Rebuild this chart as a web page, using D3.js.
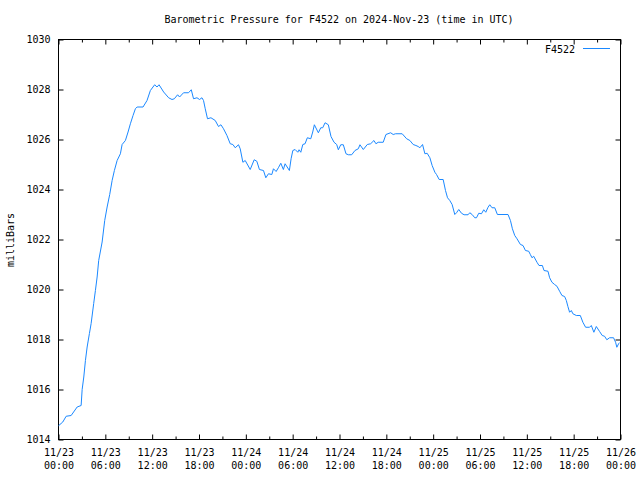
<!DOCTYPE html>
<html><head><meta charset="utf-8">
<script src="https://cdn.jsdelivr.net/npm/d3@7"></script>
<style>body{margin:0;background:#fff}svg{display:block}text{font-family:"DejaVu Sans Mono","Liberation Mono",monospace;font-size:10px;fill:#000}</style>
</head><body><svg id="c" width="640" height="480"></svg>
<script>
const title = "Barometric Pressure for F4522 on 2024-Nov-23 (time in UTC)";
const seriesName = "F4522";
const yLabel = "milliBars";
// hours since 11/23 00:00 UTC
const hours = [0,0.55,0.98,1.62,2.39,2.9,3.03,3.24,3.45,3.67,3.96,4.18,4.51,4.73,4.95,5.15,5.59,5.92,6.23,6.56,6.87,7.16,7.51,7.93,8.15,8.57,8.91,9.21,9.55,9.85,10.07,10.83,11.34,11.77,12.32,12.62,12.88,13.47,14.11,14.54,14.84,15.26,15.51,16.02,16.66,17.01,17.3,17.74,18.07,18.38,18.58,18.8,19.09,19.53,20.08,20.5,20.81,21.14,21.58,22.0,22.34,22.64,23.06,23.28,23.62,23.92,24.56,25.07,25.41,25.74,26.26,26.56,26.9,27.33,27.54,27.88,28.17,28.48,28.81,29.03,29.58,29.8,30.02,30.31,30.66,30.82,31.04,31.3,31.59,31.88,32.32,32.57,32.78,33.29,33.6,33.85,34.15,34.57,34.91,35.3,35.64,35.85,36.16,36.49,36.83,37.13,37.56,37.98,38.41,38.62,39.05,39.56,39.99,40.41,40.67,40.96,41.6,41.95,42.55,42.88,43.19,44.03,44.6,45.02,45.44,45.79,46.08,46.3,46.64,46.94,47.23,47.58,47.87,48.22,48.43,48.77,49.28,49.58,49.84,50.13,50.43,50.77,50.99,51.28,51.63,51.96,52.47,52.69,52.99,53.33,53.55,53.84,54.19,54.48,54.74,55.03,55.25,55.54,55.89,56.23,57.59,57.9,58.15,58.45,58.74,59.18,59.51,59.82,60.24,60.45,60.66,60.88,61.3,61.56,61.99,62.2,62.71,62.92,63.22,63.56,63.86,64.2,64.5,64.84,65.06,65.26,65.48,65.7,65.9,66.34,66.85,67.18,67.53,68.04,68.26,68.59,68.9,69.32,69.66,69.96,70.25,70.6,71.11,71.37,71.53,71.79,71.87];
const pressure = [1014.55,1014.7,1014.93,1014.96,1015.3,1015.36,1016.0,1016.5,1017.16,1017.7,1018.24,1018.64,1019.44,1019.96,1020.5,1021.16,1021.9,1022.76,1023.3,1023.8,1024.36,1024.76,1025.16,1025.43,1025.8,1025.96,1026.3,1026.63,1026.96,1027.23,1027.3,1027.3,1027.56,1027.96,1028.19,1028.1,1028.19,1027.9,1027.67,1027.6,1027.63,1027.79,1027.7,1027.87,1027.87,1027.99,1027.63,1027.67,1027.6,1027.67,1027.56,1027.23,1026.83,1026.87,1026.76,1026.52,1026.59,1026.43,1026.16,1025.83,1025.8,1025.67,1025.79,1025.63,1025.09,1025.16,1024.8,1025.19,1025.13,1024.8,1024.76,1024.47,1024.63,1024.6,1024.83,1024.72,1024.87,1025.05,1024.8,1025.03,1024.76,1025.23,1025.56,1025.6,1025.49,1025.59,1025.49,1025.8,1025.83,1026.07,1026.03,1026.3,1026.59,1026.27,1026.47,1026.47,1026.67,1026.59,1026.12,1025.89,1025.8,1025.59,1025.79,1025.79,1025.43,1025.39,1025.39,1025.56,1025.63,1025.79,1025.6,1025.8,1025.83,1025.96,1025.83,1025.89,1025.89,1026.2,1026.27,1026.2,1026.23,1026.23,1026.03,1025.96,1025.8,1025.76,1025.72,1025.67,1025.8,1025.43,1025.45,1025.27,1024.96,1024.69,1024.6,1024.4,1024.4,1023.96,1023.67,1023.56,1023.4,1023.0,1023.07,1023.2,1023.05,1022.99,1022.99,1023.07,1023.0,1022.87,1022.87,1023.05,1023.03,1023.19,1023.09,1023.29,1023.39,1023.27,1023.27,1023.0,1023.0,1022.76,1022.43,1022.16,1022.03,1021.8,1021.76,1021.56,1021.53,1021.4,1021.27,1021.33,1021.09,1020.96,1020.96,1020.76,1020.73,1020.47,1020.29,1020.2,1020.13,1019.93,1019.76,1019.72,1019.56,1019.32,1019.09,1019.16,1019.03,1018.96,1018.96,1018.69,1018.49,1018.49,1018.56,1018.29,1018.52,1018.32,1018.16,1018.13,1017.99,1018.07,1018.07,1017.89,1017.69,1017.85,1017.87];
const xTickHours = [0,6,12,18,24,30,36,42,48,54,60,66,72];
const xTickDates = ["11/23","11/23","11/23","11/23","11/24","11/24","11/24","11/24","11/25","11/25","11/25","11/25","11/26"];
const xTickTimes = ["00:00","06:00","12:00","18:00","00:00","06:00","12:00","18:00","00:00","06:00","12:00","18:00","00:00"];
const xMinorHours = [3,9,15,21,27,33,39,45,51,57,63,69];
const yTicks = [1014,1016,1018,1020,1022,1024,1026,1028,1030];

const svg = d3.select("#c");
const L=58.5, R=620.5, T=39.5, B=439.5;
const x = d3.scaleLinear().domain([0,72]).range([L,R]);
const y = d3.scaleLinear().domain([1014,1030]).range([B,T]);
const color = "#1a88ff";

// axes (inward ticks, mirrored)
const bx = svg.append("g").attr("transform",`translate(0,${B})`)
  .call(d3.axisBottom(x).tickValues(xTickHours).tickSizeInner(-5).tickSizeOuter(0).tickPadding(9).tickFormat((d,i)=>i));
bx.selectAll(".tick text").each(function(d,i){
  const t=d3.select(this).text(null).attr("font-size",null).attr("font-family",null);
  t.append("tspan").attr("x",0).attr("dy","0.71em").text(xTickDates[i]);
  t.append("tspan").attr("x",0).attr("dy","13").text(xTickTimes[i]);
});
svg.append("g").attr("transform",`translate(0,${B})`)
  .call(d3.axisBottom(x).tickValues(xMinorHours).tickSizeInner(-3).tickSizeOuter(0).tickFormat(""));
svg.append("g").attr("transform",`translate(0,${T})`)
  .call(d3.axisTop(x).tickValues(xTickHours).tickSizeInner(-5).tickSizeOuter(0).tickFormat(""));
svg.append("g").attr("transform",`translate(0,${T})`)
  .call(d3.axisTop(x).tickValues(xMinorHours).tickSizeInner(-3).tickSizeOuter(0).tickFormat(""));
svg.append("g").attr("transform",`translate(${L},0)`)
  .call(d3.axisLeft(y).tickValues(yTicks).tickSizeInner(-5).tickSizeOuter(0).tickPadding(8).tickFormat(d3.format("d")));
svg.append("g").attr("transform",`translate(${R},0)`)
  .call(d3.axisRight(y).tickValues(yTicks).tickSizeInner(-5).tickSizeOuter(0).tickFormat(""));
svg.selectAll(".domain").remove();
svg.selectAll(".tick line").attr("stroke","#000");
svg.selectAll(".tick text").attr("fill","#000").style("font-family",'"DejaVu Sans Mono",monospace').style("font-size","10px");

svg.append("rect").attr("x",L).attr("y",T).attr("width",R-L).attr("height",B-T)
  .attr("fill","none").attr("stroke","#000");

// line
const data = hours.map((h,i)=>[h,pressure[i]]);
svg.append("path").datum(data).attr("fill","none").attr("stroke",color).attr("stroke-width",1)
  .attr("d",d3.line().x(d=>x(d[0])).y(d=>y(d[1])));

// title
svg.append("text").attr("x",339).attr("y",23).attr("text-anchor","middle").text(title);
// y label
svg.append("text").attr("transform","translate(14,240) rotate(-90)").attr("text-anchor","middle").text(yLabel);
// legend
svg.append("text").attr("x",575).attr("y",53).attr("text-anchor","end").text(seriesName);
svg.append("line").attr("x1",583).attr("x2",610).attr("y1",48.5).attr("y2",48.5).attr("stroke",color);
</script></body></html>
